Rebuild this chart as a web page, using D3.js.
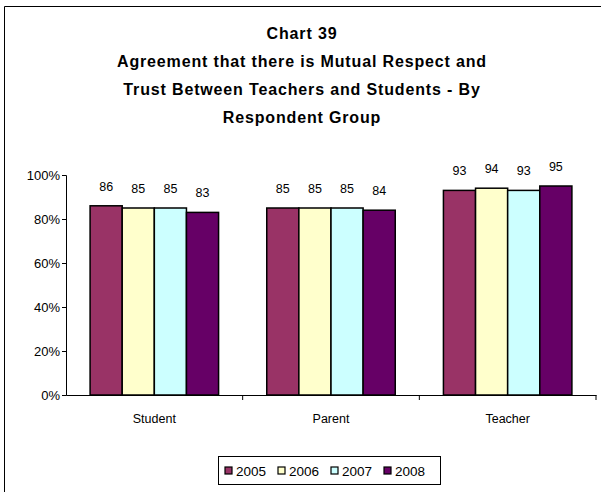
<!DOCTYPE html>
<html>
<head>
<meta charset="utf-8">
<script src="https://cdn.jsdelivr.net/npm/d3@7"></script>
<style>
  html, body { margin: 0; padding: 0; background: #fff; }
  svg { display: block; }
  text { font-family: "Liberation Sans", Arial, sans-serif; fill: #000; }
</style>
</head>
<body>
<svg id="chart" width="603" height="492"></svg>
<script>
const titleLines = ["Chart 39", "Agreement that there is Mutual Respect and", "Trust Between Teachers and Students - By", "Respondent Group"];
const categories = ["Student", "Parent", "Teacher"];
const years = ["2005", "2006", "2007", "2008"];
const values2005 = [86, 85, 93];
const values2006 = [85, 85, 94];
const values2007 = [85, 85, 93];
const values2008 = [83, 84, 95];
const yTicks = [0, 20, 40, 60, 80, 100];
const colors = ["#993366", "#FFFFCC", "#CCFFFF", "#660066"];

const seriesValues = [values2005, values2006, values2007, values2008];

const svg = d3.select("#chart");

// outer border (left, top, bottom beyond view)
svg.append("path").attr("d", "M4.5,500 L4.5,6.5 L601,6.5")
  .attr("fill", "none").attr("stroke", "#000").attr("stroke-width", 1);

// title
const title = svg.append("text").attr("text-anchor", "middle")
  .style("font-size", "16px").style("font-weight", "bold").style("letter-spacing", "0.85px");
titleLines.forEach((t, i) => {
  title.append("tspan").attr("x", 302).attr("y", 39 + i * 28).text(t);
});

const plotLeft = 66, plotRight = 596, plotTop = 175, plotBottom = 395;

const x0 = d3.scaleBand().domain(categories).range([plotLeft, plotRight]).paddingInner(0).paddingOuter(0);
const x1 = d3.scaleBand().domain(years).range([0, x0.bandwidth()]).paddingInner(0).paddingOuter(0.75);
const y = d3.scaleLinear().domain([0, 100]).range([plotBottom, plotTop]);

// y axis
const yAxis = svg.append("g").attr("transform", `translate(${plotLeft},0)`)
  .call(d3.axisLeft(y).tickValues(yTicks).tickFormat(d => d + "%").tickSize(4).tickPadding(2));
yAxis.selectAll("text").style("font-size", "13px").style("font-family", '"Liberation Sans", Arial, sans-serif');
yAxis.selectAll("path, line").attr("stroke", "#000");

// bars
const groups = svg.append("g").selectAll("g").data(categories).join("g")
  .attr("transform", d => `translate(${x0(d)},0)`);

groups.each(function(cat, ci) {
  const g = d3.select(this);
  years.forEach((yr, si) => {
    const v = seriesValues[si][ci];
    g.append("rect")
      .attr("x", x1(yr)).attr("y", y(v))
      .attr("width", x1.bandwidth()).attr("height", y(0) - y(v))
      .attr("fill", colors[si]).attr("stroke", "#000").attr("stroke-width", 1.5);
    g.append("text")
      .attr("x", x1(yr) + x1.bandwidth() / 2).attr("y", y(v) - 15)
      .attr("text-anchor", "middle").style("font-size", "12.5px")
      .text(v);
  });
});

// x axis
const xAxis = svg.append("g").attr("transform", `translate(0,${plotBottom})`)
  .call(d3.axisBottom(x0).tickSize(0).tickPadding(19));
xAxis.selectAll("text").style("font-size", "12.5px").style("font-family", '"Liberation Sans", Arial, sans-serif');
xAxis.select("path").attr("stroke", "#000");
// boundary tick marks
const boundaries = categories.slice(1).map(c => x0(c)).concat([plotRight]);
svg.append("g").selectAll("line").data(boundaries).join("line")
  .attr("x1", d => d).attr("x2", d => d)
  .attr("y1", plotBottom).attr("y2", plotBottom + 5)
  .attr("stroke", "#000");

// legend
const lg = svg.append("g");
lg.append("rect").attr("x", 218.5).attr("y", 456.5).attr("width", 222).attr("height", 28)
  .attr("fill", "#fff").attr("stroke", "#000");
const legendX = d3.scalePoint().domain(years).range([225, 384]);
years.forEach((yr, i) => {
  lg.append("rect").attr("x", legendX(yr)).attr("y", 467).attr("width", 7).attr("height", 7)
    .attr("fill", colors[i]).attr("stroke", "#000").attr("stroke-width", 1.2);
  lg.append("text").attr("x", legendX(yr) + 11).attr("y", 475.5)
    .style("font-size", "13.5px").text(yr);
});
</script>
</body>
</html>
